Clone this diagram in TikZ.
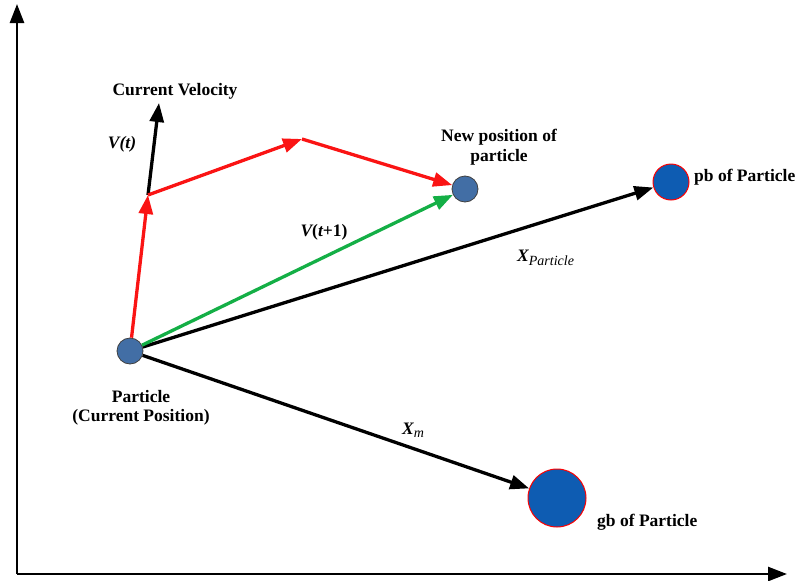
\documentclass[tikz,border=0pt]{standalone}
\usepackage{fontspec}
\setmainfont{Liberation Serif}
\usetikzlibrary{arrows.meta}
\definecolor{smallblue}{RGB}{66,110,165}
\definecolor{bigblue}{RGB}{14,92,178}
\definecolor{vred}{RGB}{250,20,20}
\definecolor{vgreen}{RGB}{20,175,70}
\begin{document}
\begin{tikzpicture}[x=1pt,y=-1pt,
  tip/.style={-{Triangle[length=19pt,width=14pt]}},
  axis/.style={line width=2.6pt,-{Triangle[length=19pt,width=14pt]}},
  vec/.style={line width=3.3pt,tip},
  smallp/.style={circle,draw=black!75,line width=0.8pt,fill=smallblue,minimum size=26pt,inner sep=0pt},
  bigp/.style={circle,draw=red,line width=1pt,fill=bigblue,inner sep=0pt},
  lbl/.style={font=\fontsize{17.5}{20.5}\selectfont\bfseries,align=center,inner sep=0pt}]
\useasboundingbox (0,0) rectangle (798,581);
% axes
\coordinate (o) at (17,574);
\coordinate (ytop) at (17,4);
\coordinate (xend) at (787,574);
\draw[axis] (o) -- (ytop);
\draw[axis] (o) -- (xend);
% particles
\node[smallp] (p) at (130,351) {};
\node[smallp] (np) at (465,189) {};
\node[bigp,minimum size=36pt] (pb) at (671,182) {};
\node[bigp,minimum size=58pt] (gb) at (557,498) {};
% velocity construction
\coordinate (j) at (148,195);
\coordinate (vt) at (159,103);
\coordinate (m) at (302,139);
\draw[vec] (j) -- (vt);
\draw[vec,vred] (p) -- (j);
\draw[vec,vred] (j) -- (m);
\draw[vec,vred] (m) -- (np);
\draw[vec,black] (p) -- (pb);
\draw[vec,black] (p) -- (gb);
\draw[vec,vgreen] (p) -- (np);
% labels
\node[lbl] (cv) at (175,91) {Current Velocity};
\node[lbl] (vtl) at (122,144) {\itshape V(t)};
\node[lbl] (npl) at (499,147) {New position of\\[-1pt]particle};
\node[lbl,anchor=west] (pbl) at (694,177) {pb of Particle};
\node[lbl,anchor=west] (gbl) at (597,522) {gb of Particle};
\node[lbl] (pl) at (141,408) {Particle\\[-1pt](Current Position)};
\node[lbl] (v1) at (324,232) {\itshape V\upshape(\itshape t\upshape+1)};
\node[lbl,anchor=west] (xp) at (517,258) {\itshape X\textsubscript{\mdseries\fontsize{14}{16}\selectfont Particle}};
\node[lbl,anchor=west] (xm) at (402,430) {\itshape X\textsubscript{\mdseries\fontsize{14}{16}\selectfont m}};
\end{tikzpicture}
\end{document}
